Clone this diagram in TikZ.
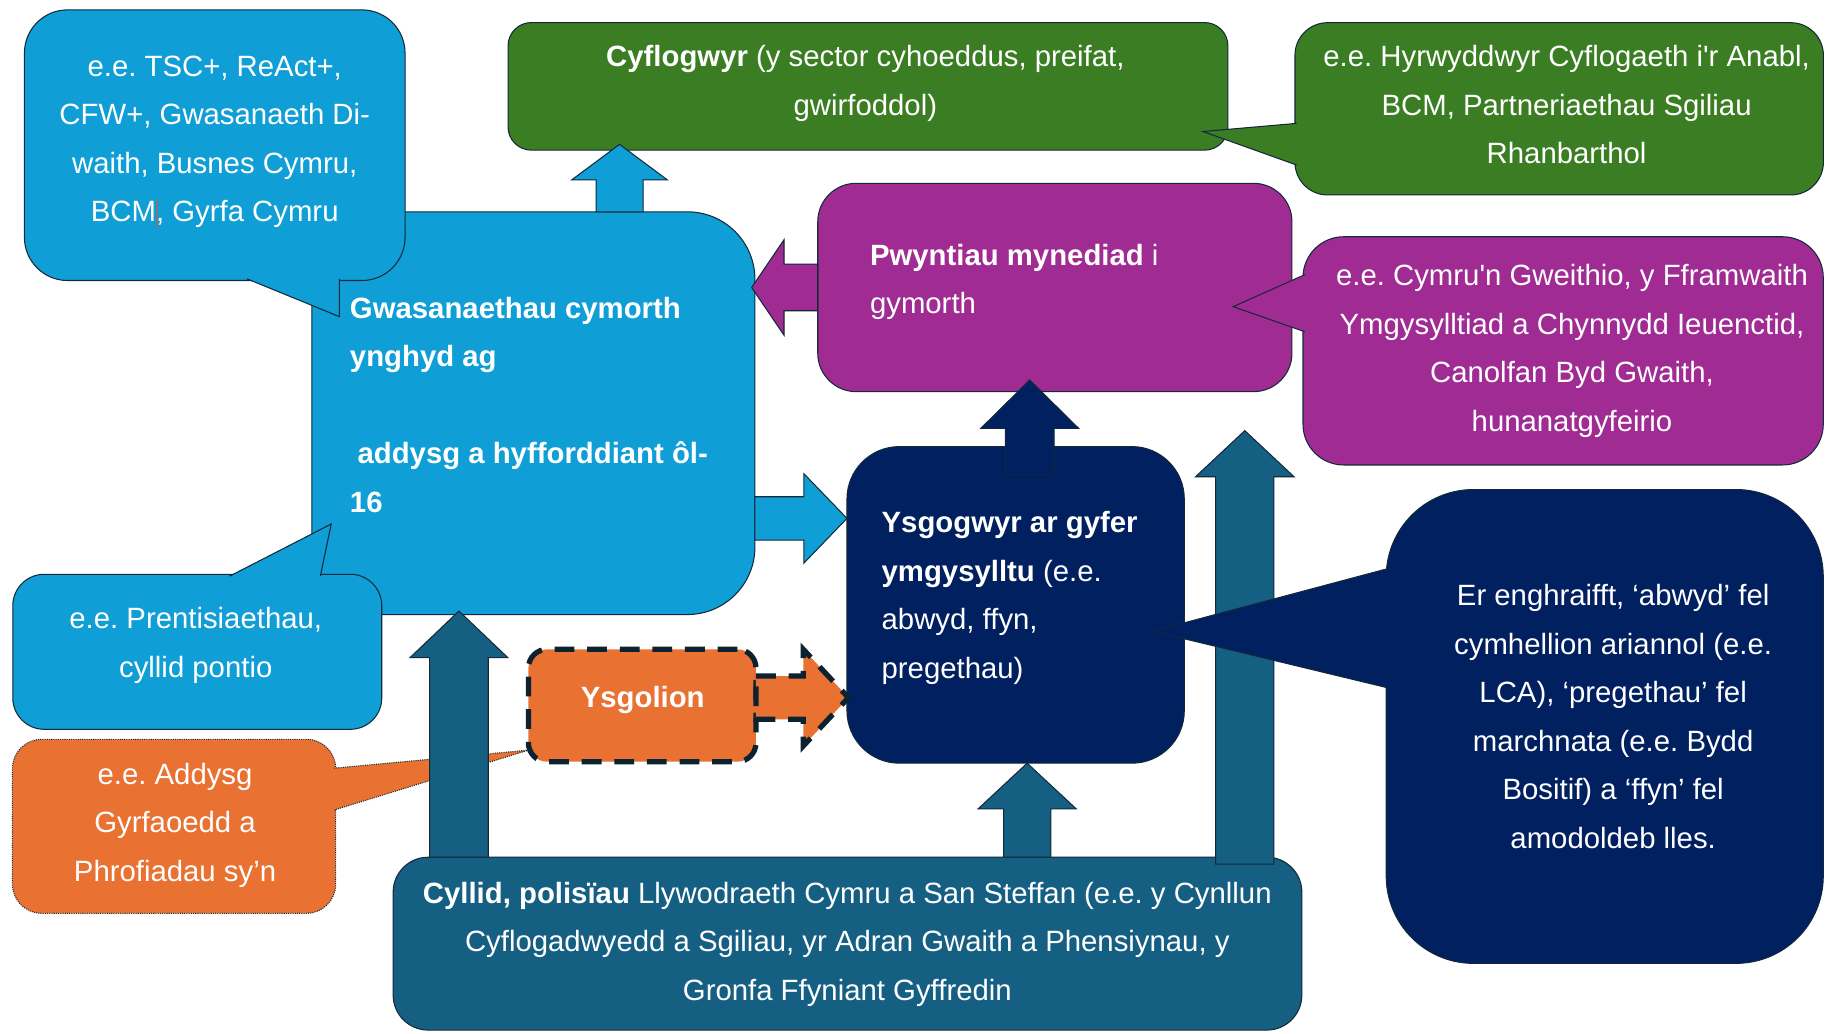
\documentclass[tikz,border=0pt]{standalone}
\usepackage{fontspec}
\setmainfont{Liberation Sans}
\usetikzlibrary{calc}
\frenchspacing
\definecolor{cblue}{HTML}{0F9ED5}
\definecolor{cgreen}{HTML}{3B7D23}
\definecolor{cpurple}{HTML}{A02B93}
\definecolor{cnavy}{HTML}{002060}
\definecolor{cteal}{HTML}{156082}
\definecolor{corange}{HTML}{E97132}
\definecolor{cline}{HTML}{13293A}
\definecolor{cdash}{HTML}{0C2230}
\definecolor{ccaret}{HTML}{D8532A}
\newcommand\firstst{\rule{0pt}{22pt}}
\newcommand\caretmark{\rlap{\hspace{0.3pt}\textcolor{ccaret}{\rule[-5pt]{0.9pt}{25pt}}}}
% block arrows: [style]{start}{tip}{shaft half}{head half}{head length}
\newcommand\blkup[6][]{\filldraw[#1] let \p1=(#2), \p2=(#3) in
  (\x1-#4,\y1) -- (\x1-#4,\y2-#6) -- (\x1-#5,\y2-#6) -- (\x1,\y2)
  -- (\x1+#5,\y2-#6) -- (\x1+#4,\y2-#6) -- (\x1+#4,\y1) -- cycle;}
\newcommand\blkright[6][]{\filldraw[#1] let \p1=(#2), \p2=(#3) in
  (\x1,\y1+#4) -- (\x2-#6,\y1+#4) -- (\x2-#6,\y1+#5) -- (\x2,\y1)
  -- (\x2-#6,\y1-#5) -- (\x2-#6,\y1-#4) -- (\x1,\y1-#4) -- cycle;}
\newcommand\blkleft[6][]{\filldraw[#1] let \p1=(#2), \p2=(#3) in
  (\x1,\y1+#4) -- (\x2+#6,\y1+#4) -- (\x2+#6,\y1+#5) -- (\x2,\y1)
  -- (\x2+#6,\y1-#5) -- (\x2+#6,\y1-#4) -- (\x1,\y1-#4) -- cycle;}
\begin{document}
\begin{tikzpicture}[x=1pt,y=-1pt,
  box/.style={draw=cline, line width=0.9pt, rectangle, inner sep=0pt, outer sep=0pt, anchor=north west},
  wedge/.style={draw=cline, line width=0.9pt},
  arr/.style={draw=cline, line width=0.9pt},
  thickdash/.style={draw=cdash, line width=4.5pt, dash pattern=on 17pt off 11pt},
  txt/.style={text=white, inner sep=0pt, outer sep=0pt, font=\fontsize{25.2}{41.7}\selectfont},
  ctxt/.style={txt, align=center, anchor=north},
  ltxt/.style={txt, align=left, anchor=north west}]
\useasboundingbox (0,0) rectangle (1568,888);
\fill[white] (0,0) rectangle (1568,888);

% helper coordinates for block arrows
\coordinate (xa1) at (532.3,0);
\coordinate (ya3) at (0,445.4);
\coordinate (ya4) at (0,599.4);
\coordinate (xa5) at (884.7,0);
\coordinate (xa6) at (882.5,0);
\coordinate (xa7) at (394.3,0);
\coordinate (xa8) at (1069.5,0);
\coordinate (a8tip) at (1069.5,370);

% Cyflogwyr
\node[box, fill=cgreen, rounded corners=20pt, minimum width=618.5pt, minimum height=109.6pt] (cyfl) at (436.5,19.4) {};
% main blue box
\node[box, fill=cblue, rounded corners=58pt, minimum width=380.6pt, minimum height=346pt] (main) at (268,182) {};
% arrow main -> Cyflogwyr
\blkup[arr, fill=cblue]{xa1 |- main.north}{$(xa1 |- cyfl.south)+(0,-5)$}{20.2pt}{41pt}{30.5pt}
% TSC callout
\node[box, fill=cblue, rounded corners=37pt, minimum width=327pt, minimum height=232.5pt] (tsc) at (21,8.5) {};
\filldraw[wedge, fill=cblue] (212,239.5) -- (291.5,272) -- (291.5,239.5);

% purple box and arrow
\node[box, fill=cpurple, rounded corners=33pt, minimum width=407.4pt, minimum height=179pt] (purp) at (702.6,157.5) {};
\blkleft[arr, fill=cpurple]{purp.west}{$(purp.west -| main.east)+(-2.8,0)$}{20pt}{41pt}{27.8pt}

% green callout
\node[box, fill=cgreen, rounded corners=28pt, minimum width=454pt, minimum height=148pt] (gcall) at (1112.6,19.5) {};
\filldraw[wedge, fill=cgreen] (1114,106) -- (1033.6,113) -- (1114,141.8);
% purple callout
\node[box, fill=cpurple, rounded corners=35pt, minimum width=447pt, minimum height=196.1pt] (pcall) at (1119.5,203.4) {};
\filldraw[wedge, fill=cpurple] (1121,236) -- (1059.5,263.5) -- (1121,285);

% Ysgogwyr
\node[box, fill=cnavy, rounded corners=45pt, minimum width=289.8pt, minimum height=272pt] (ysg) at (727.7,383.7) {};
\blkup[arr, fill=cnavy]{$(xa5 |- ysg.north)+(0,24.3)$}{$(xa5 |- purp.south)+(0,-10)$}{21pt}{42pt}{41.5pt}
\blkright[arr, fill=cblue]{main.east |- ya3}{ysg.west |- ya3}{18.6pt}{38.4pt}{37pt}

% Prentisiaethau callout
\node[box, fill=cblue, rounded corners=27pt, minimum width=317pt, minimum height=133.2pt] (prent) at (11,493.4) {};
\filldraw[wedge, fill=cblue] (197.3,495) -- (284.6,450.2) -- (275.2,495);

% Ysgolion
\node[box, fill=corange, thickdash, rounded corners=16pt, minimum width=195.5pt, minimum height=96.5pt] (ysgol) at (454,557.9) {};
\blkright[fill=corange, thickdash]{ysgol.east |- ya4}{$(ysg.west |- ya4)+(1.2,0)$}{18.6pt}{41.5pt}{38.7pt}

% orange callout
\node[box, fill=corange, densely dotted, rounded corners=25pt, minimum width=277.7pt, minimum height=149.5pt] (ocall) at (10.7,635.2) {};
\filldraw[wedge, fill=corange, densely dotted] (287,660) -- (454,644.5) -- (287,696);

% Cyllid
\node[box, fill=cteal, rounded corners=30pt, minimum width=780.7pt, minimum height=148.5pt] (cyllid) at (337.8,736.5) {};
\blkup[arr, fill=cteal]{xa6 |- cyllid.north}{xa6 |- ysg.south}{20.3pt}{42.2pt}{39.3pt}
\blkup[arr, fill=cteal]{xa7 |- cyllid.north}{$(xa7 |- main.south)+(0,-3)$}{25.2pt}{42pt}{40pt}
\blkup[arr, fill=cteal]{$(xa8 |- cyllid.north)+(0,6)$}{a8tip}{25pt}{42.3pt}{39.6pt}

% navy callout
\node[box, fill=cnavy, rounded corners=75pt, minimum width=375.5pt, minimum height=407.1pt] (ncall) at (1191,420.6) {};
\filldraw[wedge, fill=cnavy] (1192.5,488.5) -- (990.5,542.3) -- (1192.5,591);

% texts
\node[ctxt] (tsc-t) at (184.5,43.5) {\firstst e.e. TSC+, ReAct+,\\ CFW+, Gwasanaeth Di-\\ waith, Busnes Cymru,\\ BCM\caretmark, Gyrfa Cymru};
\node[ltxt] (main-t) at (300.7,251.4) {\firstst\textbf{Gwasanaethau cymorth}\\ \textbf{ynghyd ag}\\[41.7pt] \hspace*{6.5pt}\textbf{addysg a hyfforddiant ôl-}\\ \textbf{16}};
\node[ctxt] (cyfl-t) at (743.5,35.5) {\firstst\textbf{Cyflogwyr} (y sector cyhoeddus, preifat,\\ gwirfoddol)};
\node[ctxt] (gcall-t) at (1346,35.3) {\firstst e.e. Hyrwyddwyr Cyflogaeth i\textquotesingle r Anabl,\\ BCM, Partneriaethau Sgiliau\\ Rhanbarthol};
\node[ltxt] (purp-t) at (747.5,205.7) {\firstst\textbf{Pwyntiau mynediad} i\\ gymorth};
\node[ctxt] (pcall-t) at (1350.6,223.3) {\firstst e.e. Cymru\textquotesingle n Gweithio, y Fframwaith\\ Ymgysylltiad a Chynnydd Ieuenctid,\\ Canolfan Byd Gwaith,\\ hunanatgyfeirio};
\node[ltxt] (ysg-t) at (757.5,435.6) {\firstst\textbf{Ysgogwyr ar gyfer}\\ \textbf{ymgysylltu} (e.e.\\ abwyd, ffyn,\\ pregethau)};
\node[ctxt] (ncall-t) at (1386,498.4) {\firstst Er enghraifft, ‘abwyd’ fel\\ cymhellion ariannol (e.e.\\ LCA), ‘pregethau’ fel\\ marchnata (e.e. Bydd\\ Bositif) a ‘ffyn’ fel\\ amodoldeb lles.};
\node[ctxt] (prent-t) at (168.2,518.4) {\firstst e.e. Prentisiaethau,\\ cyllid pontio};
\node[ctxt] (ocall-t) at (150.4,651.8) {\firstst e.e. Addysg\\ Gyrfaoedd a\\ Phrofiadau sy’n};
\node[ctxt] (ysgol-t) at (552.2,586) {\firstst\textbf{Ysgolion}};
\node[ctxt] (cyllid-t) at (728,754) {\firstst\textbf{Cyllid, polisïau} Llywodraeth Cymru a San Steffan (e.e. y Cynllun\\ Cyflogadwyedd a Sgiliau, yr Adran Gwaith a Phensiynau, y\\ Gronfa Ffyniant Gyffredin};
\end{tikzpicture}
\end{document}
